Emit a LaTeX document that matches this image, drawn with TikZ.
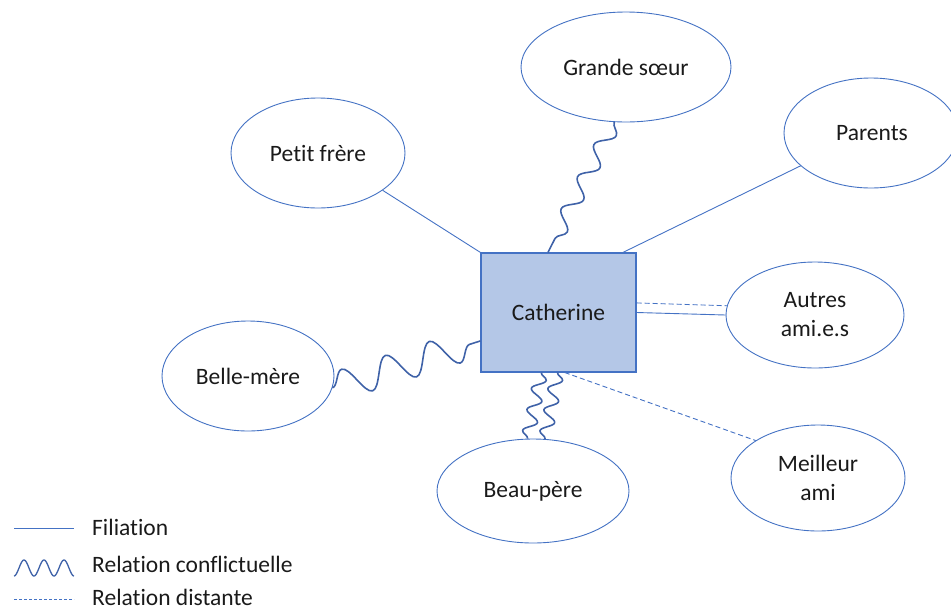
\documentclass[tikz,border=0pt]{standalone}
\usepackage{fontspec}
\setmainfont[Ligatures=NoCommon]{Carlito}
\usetikzlibrary{shapes.geometric,decorations.pathmorphing,calc}
\definecolor{edgeblue}{HTML}{4472C4}
\definecolor{boxfill}{HTML}{B4C7E7}
\definecolor{wavecol}{HTML}{3F62A8}
\definecolor{ink}{HTML}{1A1A1A}
\begin{document}
\begin{tikzpicture}[x=1pt,y=-1pt,
  person/.style={ellipse,draw=edgeblue,line width=0.9pt,fill=white,
    inner sep=0pt,text=ink,font=\fontsize{23.5}{29}\selectfont,align=center},
  selfbox/.style={rectangle,draw=edgeblue,line width=1.1pt,fill=boxfill,
    inner sep=0pt,minimum width=155pt,minimum height=119pt,text=ink,
    font=\fontsize{23.5}{29}\selectfont},
  filiation/.style={draw=edgeblue,line width=0.9pt},
  distante/.style={draw=edgeblue,line width=0.9pt,dash pattern=on 5pt off 3pt},
  conflit/.style={draw=wavecol,line width=1.6pt,line join=round,decorate},
  legendtext/.style={anchor=west,text=ink,font=\fontsize{23.5}{29}\selectfont,inner sep=0pt}]
\useasboundingbox (0,0) rectangle (951,611);

% central person and relatives
\node[selfbox] (cat) at (558.5,312.5) {Catherine};
\node[person,minimum width=210pt,minimum height=110pt] (gs) at (626,67) {Grande sœur};
\node[person,minimum width=174pt,minimum height=110pt] (pf) at (318,153) {Petit frère};
\node[person,minimum width=174pt,minimum height=110pt] (par) at (871,133) {\hspace*{2pt}Parents};
\node[person,minimum width=178pt,minimum height=106pt] (aut) at (815,315) {Autres\\ami.e.s};
\node[person,minimum width=174pt,minimum height=106pt] (mei) at (818,478) {Meilleur\\ami};
\node[person,minimum width=172pt,minimum height=110pt] (bm) at (248,376) {Belle-mère};
\node[person,minimum width=192pt,minimum height=104pt] (bp) at (533,491) {Beau-père};

% filiation links
\draw[filiation] (pf.-30) -- (cat.north west);
\draw[filiation] (par.-155) -- (cat.43);
\draw[filiation] (cat.east) -- (aut.west);

% distant links
\draw[distante] (cat.7) -- (aut.174);
\draw[distante] (cat.-84) -- (mei.149);

% conflicting links
\draw[conflit,decoration={snake,amplitude=8pt,segment length=36pt}] (gs.-102) -- (cat.100);
\draw[conflit,decoration={snake,amplitude=15pt,segment length=46pt}] (bm.-8) -- (cat.-160);
\draw[conflit,decoration={snake,amplitude=6.5pt,segment length=21.5pt}] (cat.-106) -- (bp.96);
\draw[conflit,decoration={snake,amplitude=6.5pt,segment length=21.5pt}] (cat.-91) -- (bp.77);

% legend
\coordinate (l1a) at (14,528); \coordinate (l1b) at (74,528);
\coordinate (l2a) at (14,568);
\coordinate (l3a) at (14,599); \coordinate (l3b) at (74,599);
\draw[filiation] (l1a) -- (l1b);
\draw[draw=wavecol,line width=1.3pt,shift={(l2a)}]
  plot[domain=0:3,samples=90,smooth] ({\x*20},{8*cos(360*\x)});
\draw[distante,line width=0.7pt,dash pattern=on 3pt off 2pt] (l3a) -- (l3b);
\node[legendtext] (lt1) at (92,527) {Filiation};
\node[legendtext] (lt2) at (92,564) {Relation conflictuelle};
\node[legendtext] (lt3) at (92,597) {Relation distante};
\end{tikzpicture}
\end{document}
